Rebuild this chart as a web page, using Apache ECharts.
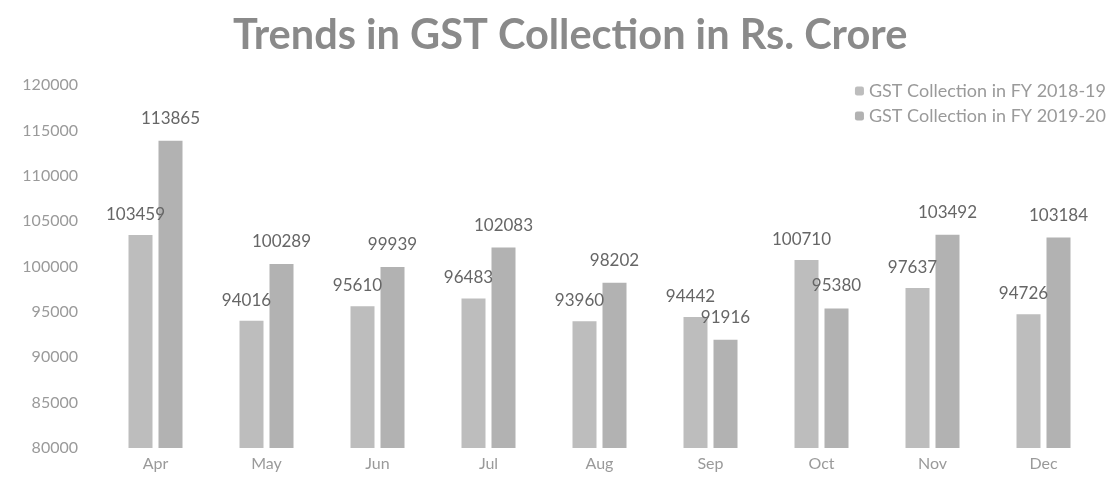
<!DOCTYPE html>
<html>
<head>
<meta charset="utf-8">
<script src="https://cdn.jsdelivr.net/npm/echarts@6/dist/echarts.min.js"></script>
<style>
  html, body { margin: 0; padding: 0; background: #fff; }
  #main { width: 1117px; height: 493px; }
</style>
</head>
<body>
<div id="main"></div>
<script>
// 月份
const months = ['Apr', 'May', 'Jun', 'Jul', 'Aug', 'Sep', 'Oct', 'Nov', 'Dec'];
// 两个财年的GST数据
const fy1819 = [103459, 94016, 95610, 96483, 93960, 94442, 100710, 97637, 94726];
const fy1920 = [113865, 100289, 99939, 102083, 98202, 91916, 95380, 103492, 103184];
const seriesNames = ['GST Collection in FY 2018-19', 'GST Collection in FY 2019-20'];

const font = 'Lato, "Open Sans", sans-serif';

let myChart = echarts.init(document.getElementById('main'));
myChart.setOption({
  animation: false,
  textStyle: { fontFamily: font },
  title: {
    text: 'Trends in GST Collection in Rs. Crore',
    left: 228,
    top: 10,
    textStyle: { fontFamily: font, fontSize: 41.5, fontWeight: 'bold', color: '#8a8a8a' }
  },
  legend: {
    orient: 'vertical',
    right: 6,
    top: 77,
    itemWidth: 9,
    itemHeight: 9,
    itemGap: 7,
    textStyle: { fontFamily: font, fontSize: 18, color: '#9a9a9a' },
    data: seriesNames
  },
  grid: { left: 100, right: 18, top: 85, bottom: 45 },
  xAxis: {
    type: 'category',
    data: months,
    axisLine: { show: false },
    axisTick: { show: false },
    axisLabel: { fontFamily: font, fontSize: 16, color: '#9a9a9a', margin: 8 }
  },
  yAxis: {
    type: 'value',
    min: 80000,
    max: 120000,
    interval: 5000,
    axisLine: { show: false },
    axisTick: { show: false },
    splitLine: { show: false },
    axisLabel: { fontFamily: font, fontSize: 16, color: '#9a9a9a', margin: 22, formatter: v => String(v) }
  },
  series: [{
    name: seriesNames[0],
    type: 'bar',
    data: fy1819,
    barWidth: 24,
    barGap: '25%',
    itemStyle: { color: '#bdbdbd' },
    label: {
      show: true,
      position: 'top',
      distance: 12,
      offset: [-5, 0],
      fontFamily: font,
      fontSize: 17,
      color: '#666'
    }
  }, {
    name: seriesNames[1],
    type: 'bar',
    data: fy1920,
    barWidth: 24,
    itemStyle: { color: '#b2b2b2' },
    label: {
      show: true,
      position: 'top',
      distance: 14,
      fontFamily: font,
      fontSize: 17,
      color: '#666'
    }
  }]
});
</script>
</body>
</html>
